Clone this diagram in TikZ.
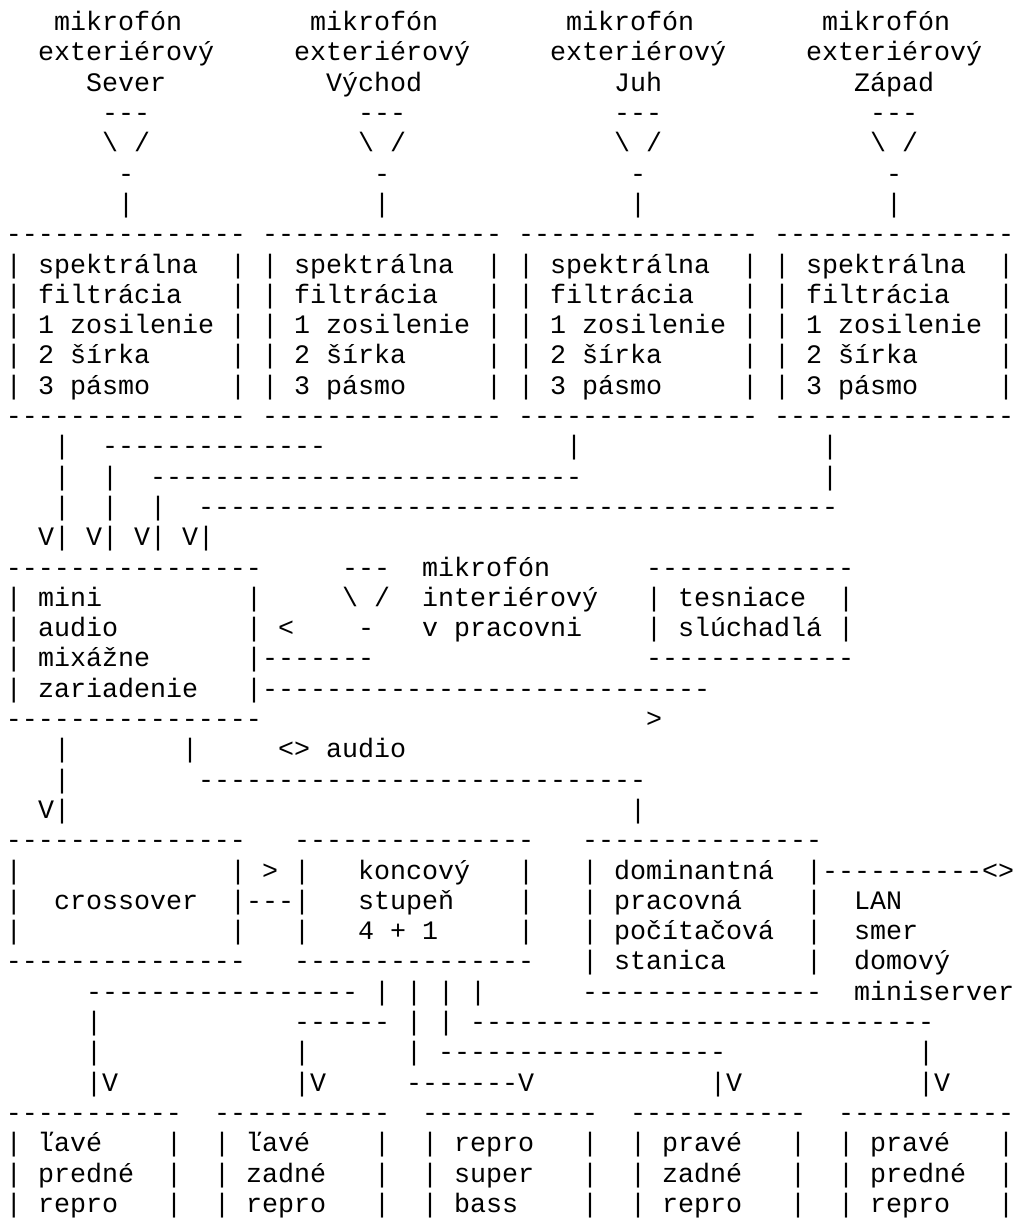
\documentclass[tikz,border=0pt]{standalone}
\usepackage{fontspec}
\newfontfamily\asciifont{Liberation Mono}
\tikzset{
  asciitext/.style={anchor=base west,inner sep=0pt,outer sep=0pt,font=\asciifont\fontsize{20pt}{24pt}\selectfont,text=black},
}
\newcounter{tc}
% text at character column #1, text row #2
\newcommand{\tx}[3]{\stepcounter{tc}\node[asciitext] (t\arabic{tc}) at (#1,#2) {#3};}
% run of #3 dashes from column #1, row #2
\newcommand{\dsh}[3]{\stepcounter{tc}\node[asciitext] (t\arabic{tc}) at (#1,#2) {\foreach \i in {1,...,#3}{-}};}
\begin{document}
\begin{tikzpicture}
\useasboundingbox (0pt,0pt) rectangle (760.5pt,-924pt);
\begin{scope}[shift={(4.5pt,-23pt)},x=12pt,y=-22.725pt]
% outdoor microphones and filter boxes
\foreach \c in {0,16,32,48}{
  \tx{\c+3}{0}{mikrofón}
  \tx{\c+2}{1}{exteriérový}
  \dsh{\c+6}{3}{3}
  \tx{\c+6}{4}{\textbackslash{} /}
  \tx{\c+7}{5}{-}
  \tx{\c+7}{6}{|}
  \dsh{\c}{7}{15}
  \foreach \r in {8,...,12}{\tx{\c}{\r}{|}\tx{\c+14}{\r}{|}}
  \tx{\c+2}{8}{spektrálna}
  \tx{\c+2}{9}{filtrácia}
  \tx{\c+2}{10}{1 zosilenie}
  \tx{\c+2}{11}{2 šírka}
  \tx{\c+2}{12}{3 pásmo}
  \dsh{\c}{13}{15}
}
\tx{5}{2}{Sever}
\tx{20}{2}{Východ}
\tx{38}{2}{Juh}
\tx{53}{2}{Západ}
% lines from the filters to the mixer
\tx{3}{14}{|}\dsh{6}{14}{14}\tx{35}{14}{|}\tx{51}{14}{|}
\tx{3}{15}{|}\tx{6}{15}{|}\dsh{9}{15}{27}\tx{51}{15}{|}
\tx{3}{16}{|}\tx{6}{16}{|}\tx{9}{16}{|}\dsh{12}{16}{40}
\tx{2}{17}{V|}\tx{5}{17}{V|}\tx{8}{17}{V|}\tx{11}{17}{V|}
% mixer, room microphone, headphones
\dsh{0}{18}{16}
\foreach \r in {19,...,22}{\tx{0}{\r}{|}}
\tx{15}{19}{|}\tx{15}{20}{|}
\tx{2}{19}{mini}
\tx{2}{20}{audio}
\tx{2}{21}{mixážne}
\tx{2}{22}{zariadenie}
\tx{15}{21}{|}\dsh{16}{21}{7}
\tx{15}{22}{|}\dsh{16}{22}{28}
\dsh{0}{23}{16}
\dsh{21}{18}{3}
\tx{21}{19}{\textbackslash{} /}
\tx{22}{20}{-}
\tx{17}{20}{<}
\tx{26}{18}{mikrofón}
\tx{26}{19}{interiérový}
\tx{26}{20}{v pracovni}
\dsh{40}{18}{13}
\tx{40}{19}{|}\tx{42}{19}{tesniace}\tx{52}{19}{|}
\tx{40}{20}{|}\tx{42}{20}{slúchadlá}\tx{52}{20}{|}
\dsh{40}{21}{13}
\tx{40}{23}{>}
% audio lines
\tx{3}{24}{|}\tx{11}{24}{|}\tx{17}{24}{<> audio}
\tx{3}{25}{|}\dsh{12}{25}{28}
\tx{2}{26}{V|}\tx{39}{26}{|}
% crossover, amplifier, workstation
\dsh{0}{27}{15}\dsh{18}{27}{15}\dsh{36}{27}{15}
\foreach \r in {28,29,30}{\tx{0}{\r}{|}\tx{18}{\r}{|}\tx{32}{\r}{|}}
\tx{14}{28}{|}\tx{16}{28}{>}
\tx{14}{29}{|}\dsh{15}{29}{3}
\tx{14}{30}{|}
\tx{3}{29}{crossover}
\tx{22}{28}{koncový}
\tx{22}{29}{stupeň}
\tx{22}{30}{4 + 1}
\dsh{0}{31}{15}\dsh{18}{31}{15}
\foreach \r in {28,...,31}{\tx{36}{\r}{|}\tx{50}{\r}{|}}
\tx{38}{28}{dominantná}
\tx{38}{29}{pracovná}
\tx{38}{30}{počítačová}
\tx{38}{31}{stanica}
\dsh{36}{32}{15}
\dsh{51}{28}{10}\tx{61}{28}{<>}
\tx{53}{29}{LAN}
\tx{53}{30}{smer}
\tx{53}{31}{domový}
\tx{53}{32}{miniserver}
% speaker lines
\dsh{5}{32}{17}\tx{23}{32}{|}\tx{25}{32}{|}\tx{27}{32}{|}\tx{29}{32}{|}
\tx{5}{33}{|}\dsh{18}{33}{6}\tx{25}{33}{|}\tx{27}{33}{|}\dsh{29}{33}{29}
\tx{5}{34}{|}\tx{18}{34}{|}\tx{25}{34}{|}\dsh{27}{34}{18}\tx{57}{34}{|}
\tx{5}{35}{|V}\tx{18}{35}{|V}\dsh{25}{35}{7}\tx{32}{35}{V}\tx{44}{35}{|V}\tx{57}{35}{|V}
% speakers
\foreach \c in {0,13,26,39,52}{
  \dsh{\c}{36}{11}
  \foreach \r in {37,38,39}{\tx{\c}{\r}{|}\tx{\c+10}{\r}{|}}
}
\tx{2}{37}{ľavé}\tx{2}{38}{predné}\tx{2}{39}{repro}
\tx{15}{37}{ľavé}\tx{15}{38}{zadné}\tx{15}{39}{repro}
\tx{28}{37}{repro}\tx{28}{38}{super}\tx{28}{39}{bass}
\tx{41}{37}{pravé}\tx{41}{38}{zadné}\tx{41}{39}{repro}
\tx{54}{37}{pravé}\tx{54}{38}{predné}\tx{54}{39}{repro}
\end{scope}
\end{tikzpicture}
\end{document}
